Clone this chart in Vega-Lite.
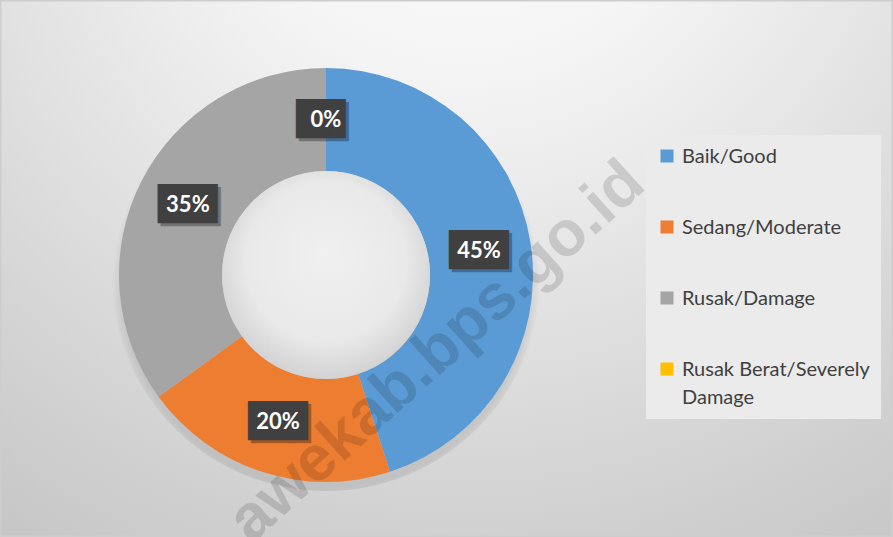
{
  "$schema": "https://vega.github.io/schema/vega-lite/v6.json",
  "width": 893,
  "height": 537,
  "autosize": {"type": "none"},
  "padding": 0,
  "background": "#ffffff",
  "config": {"view": {"stroke": null}, "font": "Lato"},
  "data": {
    "values": [
      {"category": "Baik/Good", "value": 0.45, "idx": 1},
      {"category": "Sedang/Moderate", "value": 0.20, "idx": 2},
      {"category": "Rusak/Damage", "value": 0.35, "idx": 3},
      {"category": "Rusak Berat/Severely Damage", "value": 0.0, "idx": 4}
    ]
  },
  "layer": [
    {
      "data": {"values": [{}]},
      "mark": {
        "type": "rect",
        "fill": {
          "gradient": "radial",
          "x1": 0.52, "y1": 0.0, "r1": 0,
          "x2": 0.52, "y2": 0.0, "r2": 0.95,
          "stops": [
            {"offset": 0, "color": "#ffffff"},
            {"offset": 0.3, "color": "#f4f4f4"},
            {"offset": 0.65, "color": "#dddddd"},
            {"offset": 1, "color": "#c6c6c6"}
          ]
        },
        "stroke": "#cdcdcd",
        "strokeWidth": 3
      },
      "encoding": {}
    },
    {
      "data": {"values": [{}]},
      "mark": {
        "type": "arc",
        "radius": 214,
        "theta": 0,
        "theta2": 6.2832,
        "fill": {
          "gradient": "radial",
          "x1": 0.5, "y1": 0.52, "r1": 0,
          "x2": 0.5, "y2": 0.52, "r2": 0.5,
          "stops": [
            {"offset": 0, "color": "rgba(0,0,0,0.12)"},
            {"offset": 0.95, "color": "rgba(0,0,0,0.09)"},
            {"offset": 1, "color": "rgba(0,0,0,0)"}
          ]
        }
      },
      "encoding": {"x": {"value": 326}, "y": {"value": 277}}
    },
    {
      "mark": {"type": "arc", "radius": 207, "radius2": 104},
      "encoding": {
        "x": {"value": 326},
        "y": {"value": 275},
        "theta": {"field": "value", "type": "quantitative", "stack": true},
        "order": {"field": "idx", "type": "quantitative"},
        "color": {
          "field": "category",
          "type": "nominal",
          "scale": {
            "domain": ["Baik/Good", "Sedang/Moderate", "Rusak/Damage", "Rusak Berat/Severely Damage"],
            "range": ["#5b9bd5", "#ed7d31", "#a5a5a5", "#ffc000"]
          },
          "legend": {
            "orient": "none",
            "legendX": 646,
            "legendY": 135,
            "title": null,
            "fillColor": "#ebebeb",
            "padding": 11,
            "symbolType": "square",
            "symbolSize": 169,
            "symbolStrokeWidth": 0,
            "labelFont": "Lato",
            "labelFontSize": 20,
            "labelColor": "#404040",
            "labelOffset": 5,
            "labelLimit": 400,
            "labelBaseline": "alphabetic",
            "rowPadding": 50,
            "labelExpr": "datum.label == 'Rusak Berat/Severely Damage' ? ['Rusak Berat/Severely', 'Damage'] : datum.label",
            "encode": {"labels": {"update": {"dy": {"value": 7}, "lineHeight": {"value": 28}}}}
          }
        }
      }
    },
    {
      "data": {"values": [{}]},
      "mark": {
        "type": "arc",
        "radius": 104,
        "theta": 0,
        "theta2": 6.2832,
        "fill": {
          "gradient": "radial",
          "x1": 0.5, "y1": 0.4, "r1": 0,
          "x2": 0.5, "y2": 0.45, "r2": 0.55,
          "stops": [
            {"offset": 0, "color": "#f0f0f0"},
            {"offset": 0.7, "color": "#e9e9e9"},
            {"offset": 1, "color": "#d2d2d2"}
          ]
        }
      },
      "encoding": {"x": {"value": 326}, "y": {"value": 275}}
    },
    {
      "mark": {"type": "text", "font": "DejaVu Sans Mono", "fontSize": 33, "color": "#000000", "opacity": 0.3, "radius": 155, "dx": 3, "dy": 3, "baseline": "middle", "align": "center"},
      "encoding": {
        "x": {"value": 326},
        "y": {"value": 275},
        "theta": {"field": "value", "type": "quantitative", "stack": true},
        "order": {"field": "idx", "type": "quantitative"},
        "detail": {"field": "category", "type": "nominal"},
        "text": {"condition": {"test": "datum.value < 0.1", "value": "██▌"}, "value": "███"}
      }
    },
    {
      "mark": {"type": "text", "font": "DejaVu Sans Mono", "fontSize": 33, "color": "#404040", "radius": 155, "baseline": "middle", "align": "center"},
      "encoding": {
        "x": {"value": 326},
        "y": {"value": 275},
        "theta": {"field": "value", "type": "quantitative", "stack": true},
        "order": {"field": "idx", "type": "quantitative"},
        "detail": {"field": "category", "type": "nominal"},
        "text": {"condition": {"test": "datum.value < 0.1", "value": "██▌"}, "value": "███"}
      }
    },
    {
      "mark": {"type": "text", "font": "Lato", "fontWeight": "bold", "fontSize": 22, "color": "#ffffff", "radius": 155, "baseline": "middle", "align": "center"},
      "encoding": {
        "x": {"value": 326},
        "y": {"value": 275},
        "theta": {"field": "value", "type": "quantitative", "stack": true},
        "order": {"field": "idx", "type": "quantitative"},
        "detail": {"field": "category", "type": "nominal"},
        "text": {"field": "value", "type": "quantitative", "format": ".0%"}
      }
    },
    {
      "data": {"values": [{"wm": "awekab.bps.go.id"}]},
      "mark": {"type": "text", "font": "Liberation Sans", "fontWeight": "bold", "fontSize": 64, "color": "#000000", "opacity": 0.13, "angle": -42, "align": "center", "baseline": "middle"},
      "encoding": {
        "x": {"value": 437},
        "y": {"value": 352},
        "text": {"field": "wm", "type": "nominal"}
      }
    }
  ]
}
